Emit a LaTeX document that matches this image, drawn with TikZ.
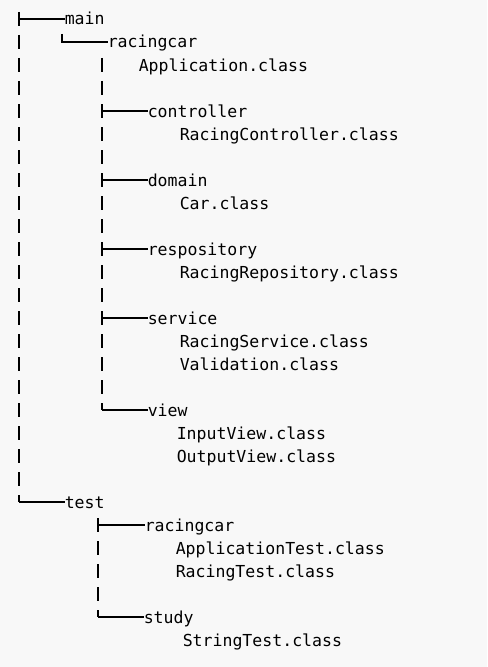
\documentclass[tikz,border=0pt]{standalone}
\usepackage{fontspec}
\usepackage{xcolor}
\usepackage{tikz}
\newfontfamily\treefont{DejaVu Sans Mono}
\definecolor{paper}{RGB}{248,248,248}

\begin{document}
\begin{tikzpicture}[
                x=0.75pt, y=-0.75pt, % one unit is one pixel of the screenshot
                file/.style={anchor=base west, inner sep=0pt, font=\treefont\fontsize{12.4pt}{15pt}\selectfont}, % folder and file names
                branch/.style={line width=1.1pt}, % tree lines
                trunk/.style={branch, dash pattern=on 10.5pt off 6.75pt} % one bar per text row
                ]
                \fill[paper] (0,0) rectangle (487,667);
                \useasboundingbox (0,0) rectangle (487,667);

                % main
                \node[file] (main) at (64.5,25) {main};
                \node[file] (rc) at (107.5,48) {racingcar};
                \node[file] (app) at (138.5,71) {Application.class};
                \node[file] (ctrl) at (147.5,117) {controller};
                \node[file] (ctrlc) at (179.5,140) {RacingController.class};
                \node[file] (dom) at (147.5,186) {domain};
                \node[file] (car) at (179.5,209) {Car.class};
                \node[file] (repo) at (147.5,255) {respository};
                \node[file] (repoc) at (179.5,278) {RacingRepository.class};
                \node[file] (svc) at (147.5,324) {service};
                \node[file] (svcc) at (179.5,347) {RacingService.class};
                \node[file] (valc) at (179.5,370) {Validation.class};
                \node[file] (view) at (147.5,416) {view};
                \node[file] (inv) at (176.5,439) {InputView.class};
                \node[file] (outv) at (176.5,462) {OutputView.class};

                % test
                \node[file] (test) at (64.5,508) {test};
                \node[file] (trc) at (144.5,531) {racingcar};
                \node[file] (apptest) at (175.5,554) {ApplicationTest.class};
                \node[file] (rtest) at (175.5,577) {RacingTest.class};
                \node[file] (study) at (143.5,623) {study};
                \node[file] (strtest) at (182.5,646) {StringTest.class};

                % joints of the tree
                \coordinate (top) at (19,12);
                \coordinate (jmain) at (19,19);
                \coordinate (jtest) at (19,502);
                \coordinate (rctop) at (62,34);
                \coordinate (jrc) at (62,42);
                \coordinate (subtop) at (102,58);
                \coordinate (jctrl) at (102,111);
                \coordinate (jdom) at (102,180);
                \coordinate (jrepo) at (102,249);
                \coordinate (jsvc) at (102,318);
                \coordinate (jview) at (102,410);
                \coordinate (testtop) at (98,518);
                \coordinate (jtrc) at (98,525);
                \coordinate (jstudy) at (98,617);

                \draw[trunk] (top) -- (jtest);
                \draw[branch] (jmain) -- (jmain -| main.west);
                \draw[branch] (jtest) -- (jtest -| test.west);
                \draw[branch] (rctop) -- (jrc) -- (jrc -| rc.west);
                \draw[trunk] (subtop) -- (jview);
                \foreach \n in {ctrl,dom,repo,svc,view}
                    \draw[branch] (j\n) -- (j\n -| \n.west);
                \draw[trunk] (testtop) -- (jstudy);
                \foreach \n in {trc,study}
                    \draw[branch] (j\n) -- (j\n -| \n.west);
            \end{tikzpicture}
\end{document}
